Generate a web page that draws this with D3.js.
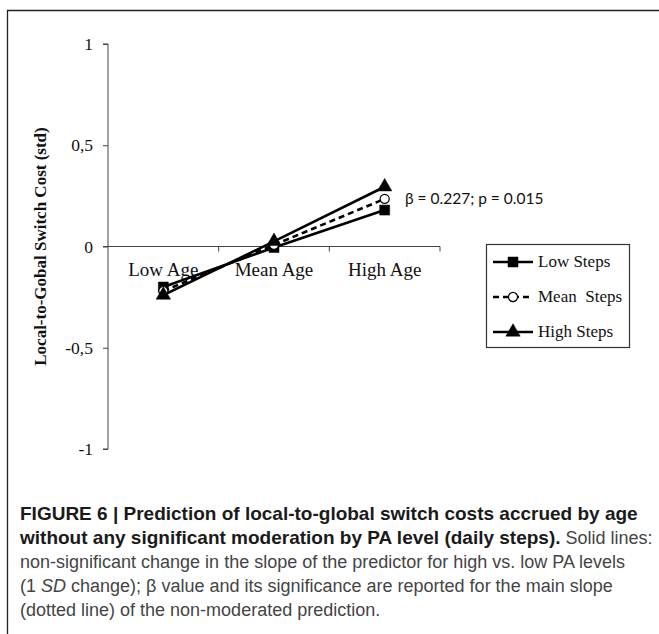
<!DOCTYPE html>
<html>
<head>
<meta charset="utf-8">
<script src="https://cdn.jsdelivr.net/npm/d3@7"></script>
<style>
  body { margin: 0; background: #fff; }
  svg { display: block; }
</style>
</head>
<body>
<div id="chart"></div>
<script>
// categories and series
const ageLevels = ["Low Age", "Mean Age", "High Age"];
const seriesNames = ["Low Steps", "Mean  Steps", "High Steps"];
const lowSteps = [-0.20, -0.005, 0.18];
const meanSteps = [-0.22, 0.008, 0.235];
const highSteps = [-0.24, 0.025, 0.295];
const yTicks = [-1, -0.5, 0, 0.5, 1];
const yTickLabels = ["-1", "-0,5", "0", "0,5", "1"];

const width = 659, height = 634;

const svg = d3.select("#chart").append("svg")
    .attr("width", width)
    .attr("height", height);

// figure frame (top + left rule)
svg.append("path")
    .attr("d", "M7.5,634 V10.5 H659")
    .attr("fill", "none")
    .attr("stroke", "#222")
    .attr("stroke-width", 1.3);

const plot = {left: 108, right: 440, top: 44, bottom: 449};

const x = d3.scaleBand()
    .domain(ageLevels)
    .range([plot.left, plot.right]);

const y = d3.scaleLinear()
    .domain([-1, 1])
    .range([plot.bottom, plot.top]);

const serif = "'Liberation Serif', 'Times New Roman', serif";

// y axis
const yAxis = svg.append("g")
    .attr("transform", `translate(${plot.left},0)`)
    .call(d3.axisLeft(y).tickValues(yTicks)
        .tickFormat((d, i) => yTickLabels[i]).tickSize(5).tickPadding(10));
yAxis.select(".domain").attr("d", `M-5,${y(1)}H0V${y(-1)}H-5`).attr("stroke", "#444");
yAxis.selectAll(".tick line").attr("stroke", "#444");
yAxis.selectAll(".tick text")
    .style("font-family", serif).style("font-size", "17.5px").attr("fill", "#111");

// x axis sitting on zero
const xAxis = svg.append("g")
    .attr("transform", `translate(0,${y(0)})`)
    .call(d3.axisBottom(x).tickSize(0).tickPadding(16));
xAxis.select(".domain").attr("d", `M${plot.left - 5},0H${plot.right}`).attr("stroke", "#444");
xAxis.selectAll(".tick text")
    .style("font-family", serif).style("font-size", "19px").attr("fill", "#111");
// band boundary ticks
xAxis.selectAll(".sep")
    .data(ageLevels)
    .join("line")
    .attr("x1", d => x(d) + x.bandwidth())
    .attr("x2", d => x(d) + x.bandwidth())
    .attr("y1", 0).attr("y2", 5)
    .attr("stroke", "#444");

// y axis title
svg.append("text")
    .attr("transform", `translate(46,${y(0)}) rotate(-90)`)
    .attr("text-anchor", "middle")
    .style("font-family", serif)
    .style("font-size", "17px")
    .style("font-weight", "bold")
    .attr("fill", "#111")
    .text("Local-to-Gobal Switch Cost (std)");

// series
const series = [
    {name: seriesNames[0], values: lowSteps, dash: null, marker: "square"},
    {name: seriesNames[1], values: meanSteps, dash: "6,4", marker: "circle"},
    {name: seriesNames[2], values: highSteps, dash: null, marker: "triangle"}
];

const line = d3.line()
    .x((d, i) => x(ageLevels[i]) + x.bandwidth() / 2)
    .y(d => y(d));

const symbols = {
    square: d3.symbol().type(d3.symbolSquare).size(100),
    circle: d3.symbol().type(d3.symbolCircle).size(65),
    triangle: d3.symbol().type(d3.symbolTriangle).size(90)
};

function drawMarker(g, type) {
    g.append("path")
        .attr("d", symbols[type]())
        .attr("fill", type === "circle" ? "#fff" : "#000")
        .attr("stroke", "#000")
        .attr("stroke-width", type === "circle" ? 1.2 : 0.5);
}

series.forEach(s => {
    svg.append("path")
        .datum(s.values)
        .attr("d", line)
        .attr("fill", "none")
        .attr("stroke", "#000")
        .attr("stroke-width", 2.6)
        .attr("stroke-dasharray", s.dash);
});
series.forEach(s => {
    s.values.forEach((v, i) => {
        const g = svg.append("g")
            .attr("transform", `translate(${x(ageLevels[i]) + x.bandwidth() / 2},${y(v)})`);
        drawMarker(g, s.marker);
    });
});

// annotation for the main slope
svg.append("text")
    .attr("x", 405)
    .attr("y", y(meanSteps[2]) + 5)
    .style("font-family", "Lato, 'Open Sans', sans-serif")
    .style("font-size", "15.5px")
    .attr("fill", "#111")
    .text("β = 0.227; p = 0.015");

// legend
const legend = svg.append("g").attr("transform", "translate(486,244)");
legend.append("rect")
    .attr("x", 0.5).attr("y", 0.5)
    .attr("width", 143).attr("height", 103)
    .attr("fill", "#fff")
    .attr("stroke", "#333")
    .attr("stroke-width", 1.2);
series.forEach((s, i) => {
    const row = legend.append("g").attr("transform", `translate(0,${18 + i * 35})`);
    row.append("line")
        .attr("x1", 7).attr("x2", 47)
        .attr("stroke", "#000")
        .attr("stroke-width", 2.6)
        .attr("stroke-dasharray", s.dash);
    drawMarker(row.append("g").attr("transform", "translate(27,0)"), s.marker);
    row.append("text")
        .attr("x", 52).attr("y", 5)
        .style("font-family", serif)
        .style("font-size", "17px")
        .style("white-space", "pre")
        .attr("fill", "#111")
        .text(s.name);
});

// caption
const caption = svg.append("text")
    .style("font-family", "'Liberation Sans', Arial, sans-serif");
const capLines = [
    [{t: "FIGURE 6 | Prediction of local-to-global switch costs accrued by age", b: true}],
    [{t: "without any significant moderation by PA level (daily steps).", b: true},
     {t: " Solid lines:"}],
    [{t: "non-significant change in the slope of the predictor for high vs. low PA levels"}],
    [{t: "(1 "}, {t: "SD", i: true}, {t: " change); β value and its significance are reported for the main slope"}],
    [{t: "(dotted line) of the non-moderated prediction."}]
];
capLines.forEach((parts, li) => {
    parts.forEach((p, pi) => {
        const ts = caption.append("tspan")
            .text(p.t)
            .attr("fill", p.b ? "#1a1a1a" : "#444")
            .style("font-size", p.b ? "19px" : "18px")
            .style("font-weight", p.b ? "bold" : "normal")
            .style("font-style", p.i ? "italic" : "normal")
            .style("white-space", "pre");
        if (pi === 0) ts.attr("x", 20).attr("y", 520 + li * 24);
    });
});
</script>
</body>
</html>
